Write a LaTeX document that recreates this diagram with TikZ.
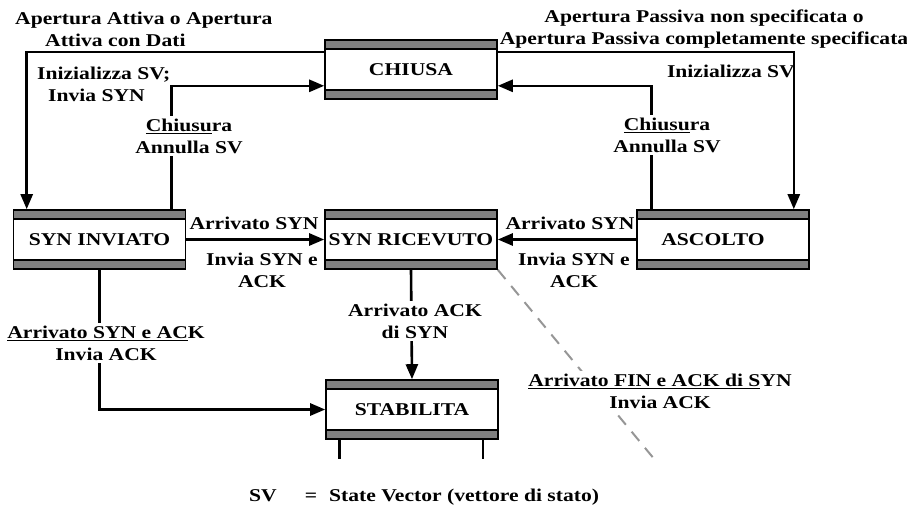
\documentclass[tikz,border=0pt]{standalone}
\usepackage{fontspec}
\setmainfont[FakeStretch=1.2]{Liberation Serif}
\usetikzlibrary{positioning,arrows.meta}

\definecolor{barra}{RGB}{128,128,128}
\definecolor{trattino}{RGB}{150,150,150}

\tikzset{
  stato/.style={draw, line width=1.6pt, minimum width=172pt, minimum height=59pt,
    inner sep=0pt, font=\bfseries\fontsize{18}{22}\selectfont,
    path picture={
      \fill[barra] (path picture bounding box.north west) rectangle ([yshift=-9pt]path picture bounding box.north east);
      \draw[line width=1.6pt] ([yshift=-9pt]path picture bounding box.north west) -- ([yshift=-9pt]path picture bounding box.north east);
      \fill[barra] (path picture bounding box.south west) rectangle ([yshift=9pt]path picture bounding box.south east);
      \draw[line width=1.6pt] ([yshift=9pt]path picture bounding box.south west) -- ([yshift=9pt]path picture bounding box.south east);
    }},
  linea/.style={line width=2.6pt},
  freccia/.style={linea, -{Triangle[length=15pt,width=12pt]}},
  tratteggio/.style={trattino, line width=2pt, dash pattern=on 12pt off 9pt},
  etic/.style={font=\bfseries\fontsize{18}{22}\selectfont, align=center, inner sep=1pt},
  bianca/.style={etic, fill=white, inner sep=3pt}
}

\begin{document}
\begin{tikzpicture}[x=1pt, y=-1pt]
  \useasboundingbox (0,0) rectangle (907,511);

  % stati
  \node[stato] (chiusa) at (411,69.5) {CHIUSA};
  \node[stato] (syninv) at (99.5,239.5) {SYN INVIATO};
  \node[stato] (synric) at (411,239.5) {SYN RICEVUTO};
  \node[stato] (ascolto) at (723,239.5) {ASCOLTO\kern20pt};
  \node[stato] (stab) at (412,409.5) {STABILITA};

  % transizioni da e verso CHIUSA
  \draw[freccia] ([yshift=-13pt]chiusa.north west) -| ([xshift=14pt]syninv.north west);
  \draw[freccia] ([xshift=-15pt]syninv.north east) |- ([yshift=14pt]chiusa.south west);
  \draw[freccia] ([yshift=-13pt]chiusa.north east) -| ([xshift=-16pt]ascolto.north east);
  \draw[freccia] ([xshift=15pt]ascolto.north west) |- ([yshift=14pt]chiusa.south east);

  % verso SYN RICEVUTO
  \draw[freccia] (syninv.east) -- (synric.west);
  \draw[freccia] (ascolto.west) -- (synric.east);

  % verso STABILITA
  \draw[freccia] (synric.south) -- (stab.north);
  \draw[freccia] (syninv.south) |- (stab.west);
  \draw[linea] ([xshift=14pt]stab.south west) -- ++(0,19);
  \draw[linea] ([xshift=-16pt]stab.south east) -- ++(0,19);

  % uscita tratteggiata
  \coordinate (fine) at (655,460);
  \draw[tratteggio] (synric.south east) -- (fine);

  % etichette
  \node[etic, anchor=west, align=left] (apatt) at (14,29) {Apertura Attiva o Apertura\\\hspace*{30pt}Attiva con Dati};
  \node[etic, anchor=west, align=left] (inizsx) at (36,84) {Inizializza SV;\\\hspace*{11pt}Invia SYN};
  \node[etic] (appas) at (704,29) {Apertura Passiva non specificata o\\Apertura Passiva completamente specificata};
  \node[etic, anchor=east] (inizdx) at (796,71) {Inizializza SV};
  \node[bianca] (chiusx) at (189,136) {\underline{Chiusu}ra\\Annulla SV};
  \node[bianca] (chiudx) at (667,135) {\underline{Chiusu}ra\\Annulla SV};
  \node[etic] (arrsx) at (254,223) {Arrivato SYN};
  \node[etic] (invsx) at (262,270) {Invia SYN e\\ACK};
  \node[etic] (arrdx) at (570,223) {Arrivato SYN};
  \node[etic] (invdx) at (574,270) {Invia SYN e\\ACK};
  \node[bianca] (arrack) at (415,321) {Arrivato ACK\\di SYN};
  \node[bianca] (arrsynack) at (106,343) {\underline{Arrivato SYN e AC}K\\Invia ACK};
  \node[bianca] (arrfin) at (660,391) {\underline{Arrivato FIN e ACK di S}YN\\Invia ACK};

  % legenda
  \node[etic, anchor=west] (legenda) at (248,497) {SV\hspace{28pt}=\hspace{12pt}State Vector (vettore di stato)};
\end{tikzpicture}
\end{document}
